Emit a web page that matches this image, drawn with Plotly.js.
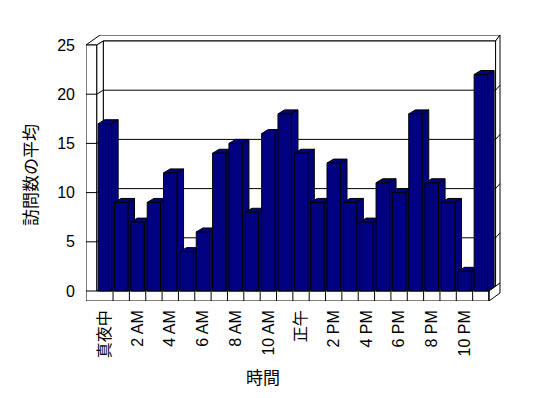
<!DOCTYPE html>
<html>
<head>
<meta charset="utf-8">
<script src="https://cdn.plot.ly/plotly-3.0.1.min.js"></script>
<style>html,body{margin:0;padding:0;background:#fff;}#chart{width:548px;height:398px;}</style>
</head>
<body>
<div id="chart"></div>
<script>
// ---- data ----
const hours = [0,1,2,3,4,5,6,7,8,9,10,11,12,13,14,15,16,17,18,19,20,21,22,23];
const visits = [17,9,7,9,12,4,6,14,15,8,16,18,14,9,13,9,7,11,10,18,11,9,2,22];
const tickHours = [0,2,4,6,8,10,12,14,16,18,20,22];
const tickLabels = ['真夜中','2 AM','4 AM','6 AM','8 AM','10 AM','正午','2 PM','4 PM','6 PM','8 PM','10 PM'];
const yTicks = [0,5,10,15,20,25];
const xTitle = '時間';
const yTitle = '訪問数の平均';

// ---- geometry (pixel layout of the plot box) ----
const W = 548, H = 398;
const L = 86, R = 501, T = 35, B = 301;
const catL = 96.7, catR = 489;          // front edge of category band
const y0px = 291, y25px = 45;           // front plane value scale
const cw = (catR - catL) / hours.length;
const uh = (y0px - y25px) / 25;
const xr = [-0.5 - (catL - L) / cw, hours.length - 0.5 + (R - catR) / cw];
const yr = [-(B - y0px) / uh, 25 + (y25px - T) / uh];
const X = p => -0.5 + (p - catL) / cw;   // pixel -> category units (frame only)
const Y = p => (y0px - p) / uh;          // pixel -> value units (frame only)
const DX = 6.6 / cw, DY = 4 / uh;        // depth offset
const barW = 0.82;
const xEnd = hours.length - 0.5;
const yMax = yTicks[yTicks.length - 1];

const shapes = [];
const path = pts => 'M' + pts.map(p => p[0] + ',' + p[1]).join('L') + 'Z';
const poly = (pts, fill) => shapes.push({type:'path', xref:'x', yref:'y', layer:'below',
  path: path(pts), fillcolor: fill || 'white', line:{color:'black', width:1}});
const seg = (a, b) => shapes.push({type:'line', xref:'x', yref:'y', layer:'below',
  x0:a[0], y0:a[1], x1:b[0], y1:b[1], line:{color:'black', width:1}});

const xl = xr[0];
// top of walls
poly([[xl, yMax], [-0.5, yMax], [-0.5 + DX, yMax + DY], [xEnd + DX, yMax + DY], [X(500), Y(35)], [X(100), Y(35)]]);
// back wall inner face
poly([[-0.5 + DX, DY], [-0.5 + DX, yMax + DY], [xEnd + DX, yMax + DY], [xEnd + DX, DY]]);
// right slab of back wall
poly([[xEnd + DX, DY], [xEnd + DX, yMax + DY], [X(500), Y(35)], [X(500), Y(283)]]);
// left wall inner face
poly([[-0.5, 0], [-0.5, yMax], [-0.5 + DX, yMax + DY], [-0.5 + DX, DY]]);
// floor top
poly([[-0.5, 0], [xEnd, 0], [xEnd + DX, DY], [-0.5 + DX, DY]]);
// left wall front face
poly([[xl, yr[0]], [xl, yMax], [-0.5, yMax], [-0.5, yr[0]]]);
// floor front face
poly([[xl, yr[0]], [xl, 0], [xEnd, 0], [xEnd, yr[0]]]);
// floor right side
poly([[xEnd, 0], [xEnd, yr[0]], [X(500), Y(293)], [X(500), Y(283)]]);
// gridlines
yTicks.slice(1, -1).forEach(v => {
  seg([xl, v], [-0.5, v]);
  seg([-0.5, v], [-0.5 + DX, v + DY]);
  seg([-0.5 + DX, v + DY], [xEnd + DX, v + DY]);
  seg([xEnd + DX, v + DY], [X(500), v + DY + 5 / uh]);
});
// category cells on floor front
hours.forEach(h => seg([h + 0.5, yr[0]], [h + 0.5, 0]));
// bar depth faces
const barColor = '#000080';
hours.forEach((h, i) => {
  const v = visits[i], a = h - barW / 2, b = h + barW / 2;
  poly([[a, v], [a + DX, v + DY], [b + DX, v + DY], [b, v]], barColor);
  poly([[b, 0], [b + DX, DY], [b + DX, v + DY], [b, v]], barColor);
});

const font = 'Liberation Sans, Arial, Noto Sans CJK JP, sans-serif';
const data = [{
  type: 'bar', x: hours, y: visits, width: barW,
  marker: {color: barColor, line: {color: 'black', width: 1}},
  hoverinfo: 'skip'
}];
const layout = {
  width: W, height: H,
  margin: {l: L, r: W - R, t: T, b: H - B, pad: 0},
  paper_bgcolor: 'white', plot_bgcolor: 'white',
  showlegend: false,
  font: {family: font, size: 16, color: 'black'},
  xaxis: {range: xr, tickmode: 'array', tickvals: tickHours, ticktext: tickLabels,
    tickangle: -90, ticks: '', showgrid: false, zeroline: false, showline: false,
    ticklabelstandoff: 5, tickfont: {family: font, size: 16, color: 'black'}, fixedrange: true},
  yaxis: {range: yr, tickmode: 'array', tickvals: yTicks, ticks: '', showgrid: false,
    zeroline: false, showline: false, ticklabelstandoff: 10,
    tickfont: {family: font, size: 16, color: 'black'}, fixedrange: true},
  shapes: shapes,
  annotations: [
    {text: xTitle, xref: 'paper', yref: 'paper', x: (262.5 - L) / (R - L), y: (B - 376) / (B - T),
     xanchor: 'center', yanchor: 'middle', showarrow: false,
     font: {family: 'Noto Sans CJK JP', size: 17, color: 'black'}},
    {text: yTitle, xref: 'paper', yref: 'paper', x: (29 - L) / (R - L), y: (B - 175) / (B - T),
     xanchor: 'center', yanchor: 'middle', textangle: -90, showarrow: false,
     font: {family: 'Noto Sans CJK JP', size: 17, color: 'black'}}
  ]
};
Plotly.newPlot('chart', data, layout, {staticPlot: true, displayModeBar: false});
</script>
</body>
</html>
